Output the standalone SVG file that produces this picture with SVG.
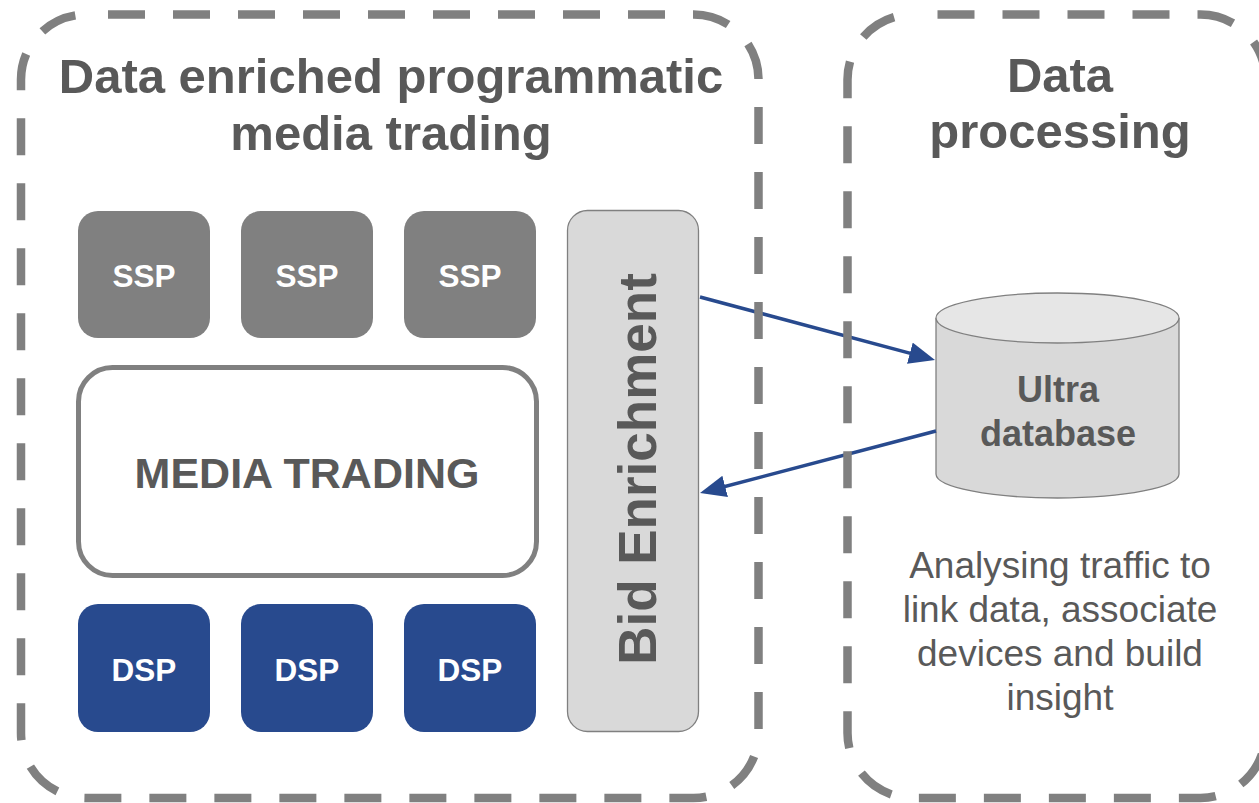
<svg xmlns="http://www.w3.org/2000/svg" width="1259" height="803" viewBox="0 0 1259 803">
  <style>
    .title { font-family: "Liberation Sans", Arial, sans-serif; font-weight: bold; font-size: 49px; fill: #595959; text-anchor: middle; }
    .tile { stroke: none; }
    .ssp { fill: #808080; }
    .dsp { fill: #284a8e; }
    .tile-label { font-family: "Liberation Sans", Arial, sans-serif; font-weight: bold; font-size: 31.5px; fill: #ffffff; text-anchor: middle; }
    .dark-label { font-family: "Liberation Sans", Arial, sans-serif; font-weight: bold; fill: #595959; text-anchor: middle; }
    .note { font-family: "Liberation Sans", Arial, sans-serif; font-size: 37px; fill: #595959; text-anchor: middle; }
    .frame { fill: none; stroke: #808080; stroke-width: 8.5; stroke-dasharray: 37 28; }
    .flow { fill: none; stroke: #284a8e; stroke-width: 3.5; marker-end: url(#arrow); }
  </style>
  <defs>
    <marker id="arrow" markerUnits="userSpaceOnUse" markerWidth="26" markerHeight="22" refX="20" refY="11" orient="auto">
      <path d="M0,0 L26,11 L0,22 z" fill="#284a8e"/>
    </marker>
  </defs>

  <rect width="1259" height="803" fill="#ffffff"/>

  <!-- supply side platforms -->
  <g id="ssp-1">
    <rect class="tile ssp" x="78" y="211" width="132" height="127" rx="20"/>
    <text class="tile-label" x="144" y="286.5">SSP</text>
  </g>
  <g id="ssp-2">
    <rect class="tile ssp" x="241" y="211" width="132" height="127" rx="20"/>
    <text class="tile-label" x="307" y="286.5">SSP</text>
  </g>
  <g id="ssp-3">
    <rect class="tile ssp" x="404" y="211" width="132" height="127" rx="20"/>
    <text class="tile-label" x="470" y="286.5">SSP</text>
  </g>

  <!-- trading core -->
  <g id="media-trading">
    <rect x="78.5" y="367.5" width="458" height="208" rx="34" fill="#ffffff" stroke="#808080" stroke-width="5"/>
    <text class="dark-label" x="307" y="488" font-size="43">MEDIA TRADING</text>
  </g>

  <!-- demand side platforms -->
  <g id="dsp-1">
    <rect class="tile dsp" x="78" y="604" width="132" height="128" rx="20"/>
    <text class="tile-label" x="144" y="680.5">DSP</text>
  </g>
  <g id="dsp-2">
    <rect class="tile dsp" x="241" y="604" width="132" height="128" rx="20"/>
    <text class="tile-label" x="307" y="680.5">DSP</text>
  </g>
  <g id="dsp-3">
    <rect class="tile dsp" x="404" y="604" width="132" height="128" rx="20"/>
    <text class="tile-label" x="470" y="680.5">DSP</text>
  </g>

  <!-- enrichment column -->
  <g id="bid-enrichment">
    <rect x="567.5" y="210.5" width="131" height="521" rx="20" fill="#d9d9d9" stroke="#808080" stroke-width="1.3"/>
    <text class="dark-label" font-size="53" transform="translate(656,469) rotate(-90)" x="0" y="0">Bid Enrichment</text>
  </g>

  <!-- database cylinder -->
  <g id="ultra-database">
    <path d="M936,318 L936,474 A121.5,24 0 0 0 1179,474 L1179,318" fill="#d9d9d9" stroke="#808080" stroke-width="1.3"/>
    <ellipse cx="1057.5" cy="318" rx="121.5" ry="25" fill="#e6e6e6" stroke="#808080" stroke-width="1.3"/>
    <text class="dark-label" font-size="36" x="1058" y="402">Ultra</text>
    <text class="dark-label" font-size="36" x="1058" y="446">database</text>
  </g>

  <g id="processing-note">
    <text class="note" x="1060" y="578">Analysing traffic to</text>
    <text class="note" x="1060" y="622">link data, associate</text>
    <text class="note" x="1060" y="666">devices and build</text>
    <text class="note" x="1060" y="710">insight</text>
  </g>

  <!-- data flow between enrichment and database -->
  <g id="connectors">
    <line class="flow" x1="700" y1="297" x2="929.2" y2="358.4"/>
    <line class="flow" x1="936" y1="431" x2="705.8" y2="491.5"/>
  </g>

  <!-- dashed grouping frames -->
  <g id="trading-frame">
    <rect class="frame" x="21" y="14.5" width="737.5" height="783.5" rx="65" stroke-dashoffset="43"/>
    <text class="title" x="391" y="93">Data enriched programmatic</text>
    <text class="title" x="391" y="150">media trading</text>
  </g>
  <g id="processing-frame">
    <rect class="frame" x="847.5" y="14.5" width="418" height="783.5" rx="65" stroke-dashoffset="40"/>
    <text class="title" x="1060" y="92">Data</text>
    <text class="title" x="1060" y="148">processing</text>
  </g>
</svg>
